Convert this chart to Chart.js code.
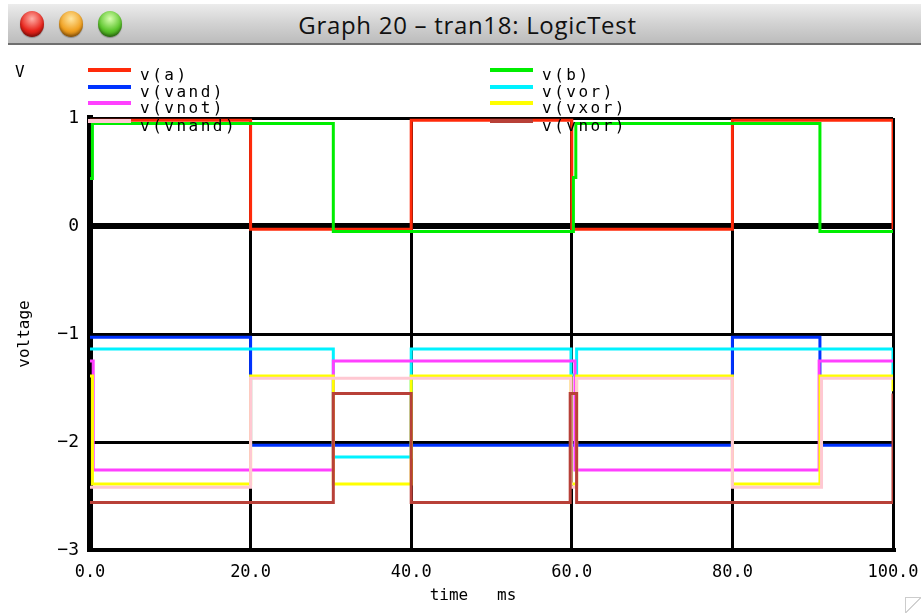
<!DOCTYPE html>
<html>
<head>
<meta charset="utf-8">
<title>Graph 20 - tran18: LogicTest</title>
<script src="https://cdn.jsdelivr.net/npm/chart.js@4/dist/chart.umd.min.js"></script>
<style>
  body { margin:0; width:921px; height:613px; background:#fff; position:relative; overflow:hidden; }
  #bar { position:absolute; left:8px; top:4px; width:913px; height:39px;
         background:linear-gradient(#ececec,#d2d2d2 50%,#bcbcbc);
         border-bottom:2px solid #6f6f6f; }
  #bar .t { position:absolute; left:0; right:0; top:4px; text-align:center;
            font:24px "Open Sans", "DejaVu Sans", sans-serif; letter-spacing:0.7px; color:#111; padding-left:6px; }
  .dot { position:absolute; top:7px; width:24px; height:26px; border-radius:50%;
         box-shadow: inset 0 -2px 3px rgba(0,0,0,.35), 0 1px 1px rgba(0,0,0,.3); }
  #resize { position:absolute; right:0; bottom:0; width:15px; height:15px; border-left:1px solid #ccc; border-top:1px solid #ccc;
            background:linear-gradient(135deg,#fff 45%,#aaa 48%,#fff 52%); }
  #c { position:absolute; left:0; top:47px; }
</style>
</head>
<body>
<div id="bar">
  <div class="dot" style="left:12px;background:radial-gradient(circle at 50% 30%,#ffb0a8,#e8251c 55%,#9c0d06)"></div>
  <div class="dot" style="left:51px;background:radial-gradient(circle at 50% 30%,#ffe6a0,#f0a020 55%,#a25c06)"></div>
  <div class="dot" style="left:90px;background:radial-gradient(circle at 50% 30%,#d8ffb0,#5cc52c 55%,#2a7a0a)"></div>
  <div class="t">Graph 20 – tran18: LogicTest</div>
</div>
<canvas id="c" width="921" height="566"></canvas>
<div id="resize"></div>
<script>
// signal names as shown in the legend
var names = ["v(a)", "v(b)", "v(vand)", "v(vor)", "v(vnot)", "v(vxor)", "v(vnand)", "v(vnor)"];
var colors = ["#ff2a0a", "#00ee00", "#0033ff", "#00f2ff", "#ff40ff", "#ffff00", "#ffc8d2", "#b84038"];

// transition times (ms) and levels (V)
var aT = [0, 20, 40, 60, 80, 100];
var aV = [0.98, -0.03, 0.98, -0.03, 0.98, -0.03];

var bT = [0, 0.3, 30.3, 60.2, 60.5, 90.9, 100];
var bV = [0.44, 0.95, -0.05, 0.45, 0.95, -0.05, -0.05];

var andT = [0, 20, 80, 90.9, 100];
var andV = [-1.03, -2.03, -1.03, -2.03, -2.03];

var orT = [0, 30.3, 40, 59.9, 60.6, 100];
var orV = [-1.14, -2.14, -1.14, -1.38, -1.14, -1.38];

var notT = [0, 0.4, 30.3, 60.4, 90.8, 100];
var notV = [-1.25, -2.26, -1.25, -2.26, -1.25, -1.25];

var xorT = [0, 0.3, 20, 30.3, 40, 59.9, 60.6, 80, 90.9, 100];
var xorV = [-1.39, -2.39, -1.39, -2.39, -1.39, -2.39, -1.39, -2.39, -1.39, -1.53];

var nandT = [0, 20, 59.9, 60.6, 80, 91.1, 100];
var nandV = [-2.42, -1.41, -2.42, -1.41, -2.42, -1.41, -1.41];

var norT = [0, 30.3, 40, 59.8, 60.6, 100];
var norV = [-2.56, -1.55, -2.56, -1.55, -2.56, -1.55];

var xTicks = ["0.0", "20.0", "40.0", "60.0", "80.0", "100.0"];
var yTicks = ["1", "0", "\u22121", "\u22122", "\u22123"];

var times = [aT, bT, andT, orT, notT, xorT, nandT, norT];
var levels = [aV, bV, andV, orV, notV, xorV, nandV, norV];

function pts(t, v) {
  var out = [];
  for (var i = 0; i < t.length; i++) out.push({x: t[i], y: v[i]});
  return out;
}

var datasets = [];
for (var i = 0; i < names.length; i++) {
  datasets.push({
    label: names[i],
    data: pts(times[i], levels[i]),
    borderColor: colors[i],
    backgroundColor: colors[i],
    borderWidth: 3,
    stepped: true,
    pointRadius: 0,
    fill: false,
    order: -i
  });
}

var mono = "'DejaVu Sans Mono', monospace";

// legend in two columns, the "V" unit label and the time axis caption
var legendPlugin = {
  id: "twoColLegend",
  afterDraw: function(chart) {
    var ctx = chart.ctx;
    ctx.save();
    ctx.font = "16px " + mono;
    ctx.fillStyle = "#000";
    ctx.textBaseline = "alphabetic";
    ctx.fillText("V", 15, 30);
    ctx.textAlign = "center";
    ctx.fillText("time   ms", 473, 553);
    ctx.textAlign = "left";
    if ("letterSpacing" in ctx) ctx.letterSpacing = "2.5px";
    var rows = [23, 40, 56, 74];
    for (var i = 0; i < names.length; i++) {
      var col = i % 2, row = Math.floor(i / 2);
      var x0 = col === 0 ? 88 : 490;
      var y = rows[row];
      ctx.strokeStyle = colors[i];
      ctx.lineWidth = 4;
      ctx.beginPath();
      ctx.moveTo(x0, y);
      ctx.lineTo(x0 + 43, y);
      ctx.stroke();
      ctx.fillText(names[i], x0 + 52, y + 10);
    }
    ctx.restore();
  }
};

new Chart(document.getElementById("c"), {
  type: "line",
  data: { datasets: datasets },
  plugins: [legendPlugin],
  options: {
    responsive: false,
    animation: false,
    layout: { padding: { left: 0, right: 28, top: 71, bottom: 0 } },
    plugins: { legend: { display: false }, tooltip: { enabled: false } },
    scales: {
      x: {
        type: "linear", min: 0, max: 100,
        afterFit: function(s) { s.height = 63; s.paddingLeft = 0; s.paddingRight = 0; },
        ticks: {
          stepSize: 20, maxRotation: 0, autoSkip: false, padding: 12,
          color: "#000", font: { family: mono, size: 17 },
          callback: function(v, i) { return xTicks[i]; }
        },
        grid: {
          color: "#000", drawTicks: false,
          lineWidth: function(c) { return c.tick && c.tick.value === 0 ? 6 : 3; }
        },
        border: { display: true, color: "#000", width: 4 },
        title: { display: false }
      },
      y: {
        min: -3, max: 1,
        afterFit: function(s) { s.width = 90; },
        ticks: {
          stepSize: 1, padding: 11, color: "#000", font: { family: mono, size: 18 },
          callback: function(v, i, all) { return yTicks[all.length - 1 - i]; }
        },
        grid: {
          color: "#000", drawTicks: false,
          lineWidth: function(c) { return c.tick && c.tick.value === 0 ? 6 : 3; }
        },
        border: { display: true, color: "#000", width: 6 },
        title: { display: true, text: "voltage", color: "#000",
                 font: { family: mono, size: 16 }, padding: { top: 15, bottom: 0 } }
      }
    }
  }
});
</script>
</body>
</html>
